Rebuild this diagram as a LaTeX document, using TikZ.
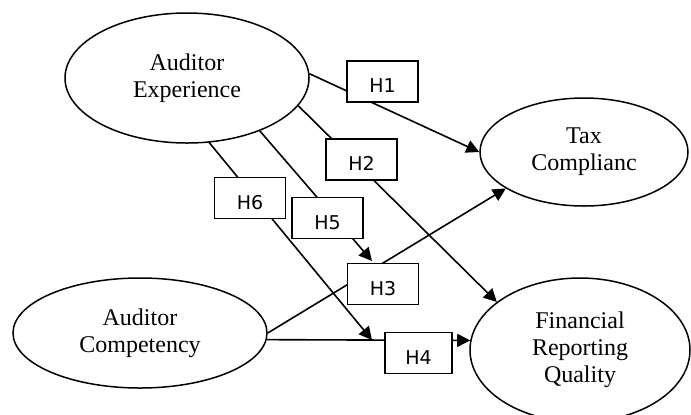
\documentclass[tikz,border=0pt]{standalone}
\usepackage{fontspec}
\setmainfont{Liberation Serif}
\newfontfamily\hfont{DejaVu Sans}
\usetikzlibrary{arrows.meta,shapes.geometric,backgrounds}
\definecolor{ink}{RGB}{0,0,0}
\tikzset{
  construct/.style={draw=ink, ellipse, inner sep=0pt, align=center, text=ink,
    font=\fontsize{12}{13.5}\selectfont, line width=0.75pt},
  hyp/.style={draw=ink, fill=white, rectangle, inner sep=0pt, minimum width=35.5pt,
    minimum height=20.5pt, text height=11pt, text depth=0pt,
    font=\hfont\fontsize{9.5}{11}\selectfont, text=ink, line width=0.8pt},
  flow/.style={-{Triangle[length=6.5pt,width=6.5pt]}, line width=0.8pt, draw=ink},
}

\begin{document}
\begin{tikzpicture}[x=0.5pt,y=-0.5pt]
  \useasboundingbox (0,0) rectangle (691,414);
  \node[construct, minimum width=122pt, minimum height=65pt] (exp) at (187,78) {Auditor\\Experience};
  \node[construct, minimum width=104pt, minimum height=54pt] (tax) at (584,152) {Tax\\Complianc};
  \node[construct, minimum width=127pt, minimum height=55pt] (comp) at (140,333) {Auditor\\Competency};
  \node[construct, minimum width=110pt, minimum height=72pt] (frq) at (580,350) {Financial\\Reporting\\Quality};
  % hypothesis boxes
  \node[hyp] (h1) at (382.5,81.5) {H1};
  \node[hyp] (h2) at (361.5,159.5) {H2};
  \node[hyp] (h6) at (250,198) {H6};
  \node[hyp] (h5) at (327.5,218) {H5};
  \node[hyp] (h3) at (383,284) {H3};
  \node[hyp, minimum width=33.5pt] (h4) at (418.5,353) {H4};
  \coordinate (h5tip) at (372,261);
  \coordinate (h6tip) at (372,340);
  \begin{scope}[on background layer]
    \draw[flow] (exp.2) -- (tax.180);
    \draw[flow] (exp.-14) -- (frq.150);
    \draw[flow] (exp.-36) -- (h5tip);
    \draw[flow] (exp.-71) -- (h6tip);
    \draw[flow] (comp.-3.6) -- (frq.175);
    \draw[flow] (comp.east) -- (tax.205);
  \end{scope}
\end{tikzpicture}
\end{document}
